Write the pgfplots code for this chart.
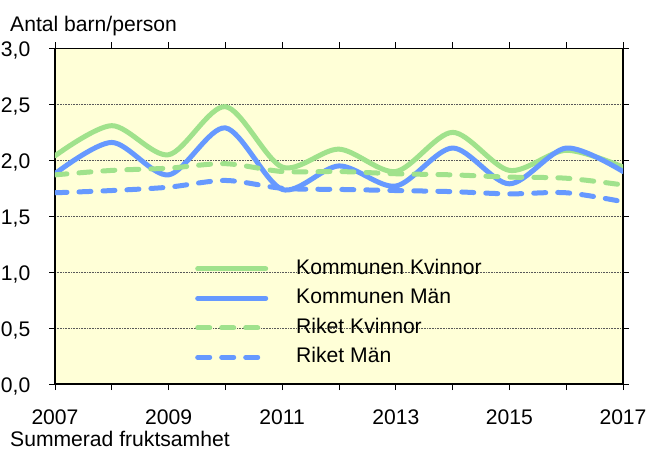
\documentclass[border=0pt]{standalone}
\usepackage{pgfplots}
\pgfplotsset{compat=1.18}
\usepackage{fontspec}
\setmainfont{Liberation Sans}
\definecolor{bgy}{RGB}{255,255,215}
\definecolor{lgreen}{RGB}{160,226,140}
\definecolor{lblue}{RGB}{102,153,255}
\begin{document}
\fontsize{21.2}{25}\selectfont
\begin{tikzpicture}
\useasboundingbox (-55bp,-66bp) rectangle (592bp,384bp);
\begin{axis}[
  at={(0,0)}, anchor=south west,
  scale only axis,
  width=568bp, height=335.5bp,
  xmin=2007, xmax=2017, ymin=0, ymax=3,
  axis background/.style={fill=bgy},
  axis line style={black, line width=1.6bp},
  xtick={2007,2008,...,2017},
  xticklabels={2007,,2009,,2011,,2013,,2015,,2017},
  ytick={0,0.5,...,3},
  tick align=outside,
  major tick length=6bp,
  tick style={black, line width=0.8bp},
  xticklabel style={anchor=base, inner sep=0pt, yshift=-34bp},
  yticklabel style={anchor=east, inner sep=0pt, xshift=-18.5bp, yshift=-2bp},
  /pgf/number format/.cd, fixed, fixed zerofill, precision=1, use comma, assume math mode=true,
  /pgfplots/.cd,
  ymajorgrids,
  major grid style={densely dotted, gray!70!black, line width=0.6bp},
  grid style={densely dotted, gray!70!black, line width=0.6bp},
  axis on top=false,
  legend style={at={(0.2465,0.378)}, anchor=north west, draw=none, fill=none,
    inner sep=0pt, row sep=6.5bp,
    nodes={inner sep=2bp, text height=15bp, text depth=4bp},
    /tikz/every odd column/.append style={column sep=26bp}},
  legend cell align=left,
  legend image code/.code={\draw[#1] (0bp,0bp) -- (68bp,0bp);},
]
\addplot[lgreen, line width=5bp, smooth, line cap=round] coordinates {
(2007,2.04) (2008,2.31) (2009,2.05) (2010,2.48) (2011,1.94) (2012,2.10) (2013,1.90) (2014,2.25) (2015,1.91) (2016,2.09) (2017,1.94)};
\addlegendentry{Kommunen Kvinnor}
\addplot[lblue, line width=5bp, smooth, line cap=round] coordinates {
(2007,1.88) (2008,2.16) (2009,1.87) (2010,2.29) (2011,1.74) (2012,1.95) (2013,1.77) (2014,2.11) (2015,1.79) (2016,2.11) (2017,1.90)};
\addlegendentry{Kommunen Män}
\addplot[lgreen, line width=5bp, smooth, line cap=round, dash pattern=on 12bp off 12bp] coordinates {
(2007,1.87) (2008,1.91) (2009,1.93) (2010,1.97) (2011,1.90) (2012,1.90) (2013,1.88) (2014,1.87) (2015,1.85) (2016,1.84) (2017,1.78)};
\addlegendentry{Riket Kvinnor}
\addplot[lblue, line width=5bp, smooth, line cap=round, dash pattern=on 12bp off 12bp] coordinates {
(2007,1.71) (2008,1.73) (2009,1.76) (2010,1.82) (2011,1.75) (2012,1.74) (2013,1.73) (2014,1.72) (2015,1.70) (2016,1.71) (2017,1.63)};
\addlegendentry{Riket Män}
\end{axis}
\node[anchor=base west, inner sep=0pt] at (-45bp,352bp) {Antal barn/person};
\node[anchor=base west, inner sep=0pt] at (-45bp,-62bp) {Summerad fruktsamhet};
\end{tikzpicture}
\end{document}
